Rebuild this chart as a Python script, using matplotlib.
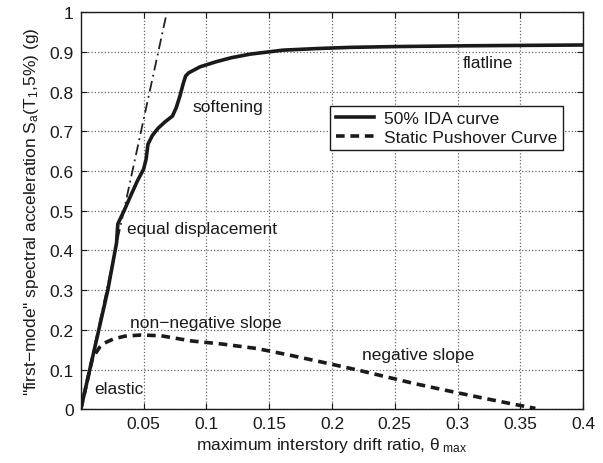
import matplotlib
matplotlib.use("Agg")
import matplotlib.pyplot as plt

plt.rcParams['font.family'] = ['Liberation Sans', 'DejaVu Sans']
plt.rcParams['mathtext.fontset'] = 'custom'
plt.rcParams['mathtext.rm'] = 'Liberation Sans'
plt.rcParams['mathtext.it'] = 'Liberation Sans'

# 50% IDA curve
ida_x = [0.0, 0.0215, 0.0285, 0.029, 0.0295, 0.035, 0.040, 0.045, 0.050, 0.052, 0.0535, 0.057,
         0.0615, 0.067, 0.073, 0.076, 0.079, 0.0815, 0.0835, 0.086, 0.095, 0.108, 0.12,
         0.135, 0.161, 0.188, 0.2145, 0.25, 0.308, 0.4]
ida_y = [0.0, 0.30, 0.42, 0.446, 0.467, 0.504, 0.54, 0.575, 0.605, 0.63, 0.668, 0.69,
         0.708, 0.724, 0.739, 0.76, 0.79, 0.82, 0.84, 0.848, 0.863, 0.876, 0.886,
         0.895, 0.905, 0.909, 0.912, 0.914, 0.916, 0.918]

# static pushover curve
po_x = [0.0, 0.009, 0.012, 0.015, 0.019, 0.026, 0.035, 0.048, 0.064, 0.088, 0.113, 0.140,
        0.1667, 0.193, 0.22, 0.244, 0.265, 0.2915, 0.318, 0.3445, 0.362]
po_y = [0.0, 0.125, 0.142, 0.156, 0.167, 0.177, 0.184, 0.187, 0.185, 0.172, 0.164, 0.153,
        0.136, 0.118, 0.099, 0.081, 0.065, 0.047, 0.0295, 0.0126, 0.002]

# elastic tangent line
tan_x = [0.0, 0.0685]
tan_y = [0.0, 1.0]

xticks = [0.05, 0.1, 0.15, 0.2, 0.25, 0.3, 0.35, 0.4]
xtick_labels = ['0.05', '0.1', '0.15', '0.2', '0.25', '0.3', '0.35', '0.4']
yticks = [0, 0.1, 0.2, 0.3, 0.4, 0.5, 0.6, 0.7, 0.8, 0.9, 1.0]
ytick_labels = ['0', '0.1', '0.2', '0.3', '0.4', '0.5', '0.6', '0.7', '0.8', '0.9', '1']

fig = plt.figure(figsize=(6.03, 4.64), dpi=100)
ax = fig.add_axes([0.134, 0.116, 0.833, 0.855])
ax.set_axisbelow(True)

ax.plot(tan_x, tan_y, color='#222222', lw=1.3, linestyle=(0, (6, 2.5, 1, 2.5)), zorder=2)
l1, = ax.plot(ida_x, ida_y, color='#1a1a1a', lw=2.6, solid_joinstyle='round', zorder=3,
              label='50% IDA curve')
l2, = ax.plot(po_x, po_y, color='#1a1a1a', lw=2.6, linestyle=(0, (2.4, 1.6)), zorder=3,
              label='Static Pushover Curve')

ax.set_xlim(0, 0.4)
ax.set_ylim(0, 1.0)
ax.set_xticks(xticks)
ax.set_xticklabels(xtick_labels)
ax.set_yticks(yticks)
ax.set_yticklabels(ytick_labels)
ax.tick_params(direction='in', top=True, right=True, length=4, width=0.8,
               labelsize=12.5, colors='#1a1a1a', pad=5)
ax.xaxis.grid(True, linestyle=':', color='#666666', linewidth=0.9)
ax.yaxis.grid(True, linestyle=':', color='#666666', linewidth=0.9)
for s in ax.spines.values():
    s.set_linewidth(1.0)
    s.set_color('#1a1a1a')

ax.set_xlabel(r'maximum interstory drift ratio, $\theta_{\ \rm max}$', fontsize=12.5, color='#1a1a1a', labelpad=3)
ax.set_ylabel('"first\u2212mode" spectral acceleration S$_{\\rm a}$(T$_{\\rm 1}$,5%) (g)',
              fontsize=12.5, color='#1a1a1a', labelpad=6)

fs = 12.5
ax.text(0.304, 0.874, 'flatline', fontsize=fs, va='center', ha='left', color='#1a1a1a')
ax.text(0.089, 0.764, 'softening', fontsize=fs, va='center', ha='left', color='#1a1a1a')
ax.text(0.0367, 0.456, 'equal displacement', fontsize=fs, va='center', ha='left', color='#1a1a1a')
ax.text(0.039, 0.219, 'non\u2212negative slope', fontsize=fs, va='center', ha='left', color='#1a1a1a')
ax.text(0.224, 0.139, 'negative slope', fontsize=fs, va='center', ha='left', color='#1a1a1a')
ax.text(0.011, 0.053, 'elastic', fontsize=fs, va='center', ha='left', color='#1a1a1a')

leg = ax.legend(handles=[l1, l2], loc='upper left', bbox_to_anchor=(0.497, 0.765),
                fontsize=12.5, frameon=True, fancybox=False, handlelength=2.2,
                borderpad=0.3, labelspacing=0.2, handletextpad=0.6, borderaxespad=0,
                framealpha=1)
leg.get_frame().set_edgecolor('#1a1a1a')
leg.get_frame().set_linewidth(1.0)
for t in leg.get_texts():
    t.set_color('#1a1a1a')

fig.savefig('out.png', dpi=100)
